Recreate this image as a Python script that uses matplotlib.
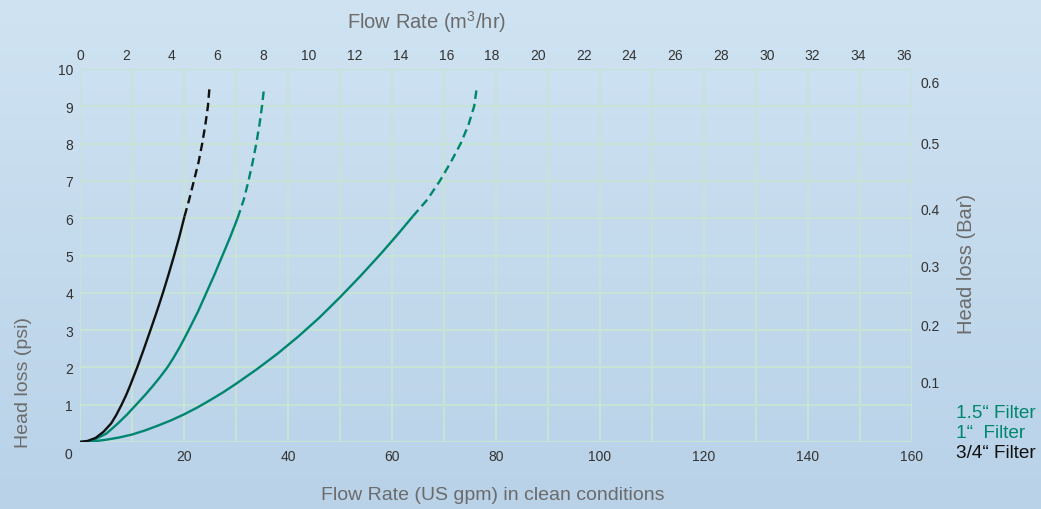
import numpy as np
import matplotlib
matplotlib.use("Agg")
import matplotlib.pyplot as plt

plt.rcParams['font.family'] = ['Liberation Sans', 'DejaVu Sans']

# ---- data (US gpm vs head loss psi) ----
q34_solid = [0, 1.5, 3.0, 4.5, 6.0, 7.0, 8.0, 8.85, 9.6, 10.3, 11.0, 12.3, 13.55, 14.78, 15.95, 17.05, 18.1, 19.1, 20.1]
p34_solid = [0, 0.03, 0.11, 0.27, 0.5, 0.73, 1.0, 1.25, 1.5, 1.75, 2.0, 2.5, 3.0, 3.5, 4.0, 4.5, 5.0, 5.5, 6.05]
q34_dash = [20.1, 21.0, 21.9, 22.8, 23.5, 24.1, 24.6, 24.9]
p34_dash = [6.05, 6.5, 7.0, 7.5, 8.0, 8.5, 9.0, 9.5]

q1_solid = [0, 1.5, 3.0, 5.0, 6.1, 7.3, 9.0, 10.8, 12.45, 14.0, 15.45, 16.8, 17.95, 19.0, 19.97, 20.9, 22.7, 24.3, 25.9, 27.4, 28.9, 30.3]
p1_solid = [0, 0.02, 0.08, 0.22, 0.35, 0.5, 0.73, 1.0, 1.25, 1.5, 1.75, 2.0, 2.25, 2.5, 2.75, 3.0, 3.5, 4.0, 4.5, 5.0, 5.5, 6.0]
q1_dash = [30.3, 31.5, 32.4, 33.2, 33.9, 34.5, 35.0, 35.4]
p1_dash = [6.0, 6.5, 7.0, 7.5, 8.0, 8.5, 9.0, 9.5]

q15_solid = [0, 2.5, 5, 7.5, 10, 12.5, 15, 17.5, 20, 22.5, 25, 27.5, 30, 34, 38, 42, 46, 50, 54, 58, 61, 64]
p15_solid = [0, 0.015, 0.06, 0.12, 0.2, 0.31, 0.44, 0.58, 0.74, 0.92, 1.12, 1.33, 1.56, 1.95, 2.37, 2.83, 3.33, 3.88, 4.46, 5.07, 5.55, 6.05]
q15_dash = [64.0, 66.8, 69.2, 71.3, 73.2, 74.7, 75.8, 76.3]
p15_dash = [6.05, 6.5, 7.0, 7.5, 8.0, 8.5, 9.0, 9.5]

x_major = [0, 20, 40, 60, 80, 100, 120, 140, 160]
x_labels = ['', '20', '40', '60', '80', '100', '120', '140', '160']
y_major = list(range(0, 11))
y_labels = [''] + [str(v) for v in range(1, 11)]
m3_ticks = list(range(0, 37, 2))
bar_pos_psi = [1.61, 3.16, 4.73, 6.26, 8.04, 9.66]
bar_labels = ['0.1', '0.2', '0.3', '0.4', '0.5', '0.6']

legend_labels = ['1.5\u201c Filter', '1\u201c  Filter', '3/4\u201c Filter']

GREEN = '#00866f'
BLACK = '#111111'
GRID = '#c6e3d6'
TICK = '#333333'
LAB = '#6b6b6b'

W, H = 1041, 510
fig = plt.figure(figsize=(W / 100, H / 100), dpi=100)

# background gradient
bg = fig.add_axes([0, 0, 1, 1], zorder=-10)
top = np.array([207, 227, 242]) / 255
bot = np.array([185, 210, 232]) / 255
t = np.linspace(0, 1, 256)[:, None]
grad = top[None, :] * (1 - t) + bot[None, :] * t
bg.imshow(grad[:, None, :].repeat(4, axis=1), aspect='auto', extent=[0, 1, 0, 1])
bg.axis('off')

ax = fig.add_axes([80 / W, 1 - 443 / H, 832 / W, 373 / H])
ax.patch.set_alpha(0)
ax.set_xlim(0, 160)
ax.set_ylim(0, 10)

ax.set_xticks(x_major)
ax.set_xticklabels(x_labels)
ax.set_xticks(np.arange(10, 160, 20), minor=True)
ax.set_yticks(y_major)
ax.set_yticklabels(y_labels)
ax.grid(True, which='both', color=GRID, lw=1.5, zorder=0)
ax.tick_params(which='both', length=0, labelsize=10, colors=TICK)
ax.tick_params(axis='x', pad=5)
ax.tick_params(axis='y', pad=5)
for s in ax.spines.values():
    s.set_visible(False)
ax.set_axisbelow(True)

lw = 1.7
ax.plot(q15_solid, p15_solid, color=GREEN, lw=lw, solid_capstyle='butt', solid_joinstyle='round', zorder=3)
l, = ax.plot(q15_dash, p15_dash, color=GREEN, lw=lw, zorder=3)
l.set_dashes([3.6, 2.1])
ax.plot(q1_solid, p1_solid, color=GREEN, lw=lw, solid_capstyle='butt', solid_joinstyle='round', zorder=3)
l, = ax.plot(q1_dash, p1_dash, color=GREEN, lw=lw, zorder=3)
l.set_dashes([3.6, 2.1])
ax.plot(q34_solid, p34_solid, color=BLACK, lw=lw, solid_capstyle='butt', solid_joinstyle='round', zorder=4)
l, = ax.plot(q34_dash, p34_dash, color=BLACK, lw=lw, zorder=4)
l.set_dashes([3.6, 2.1])

ax.annotate('0', xy=(0, 0), xytext=(-12, -12), textcoords='offset pixels',
            ha='center', va='center', fontsize=10, color=TICK)

# top axis: m3/hr
sec = ax.secondary_xaxis('top', functions=(lambda g: g * 0.22712, lambda m: m / 0.22712))
sec.set_xticks(m3_ticks)
sec.tick_params(length=0, labelsize=10, colors=TICK, pad=5)
for s in sec.spines.values():
    s.set_visible(False)

# right axis: bar
ax2 = ax.twinx()
ax2.set_ylim(0, 10)
ax2.set_yticks(bar_pos_psi)
ax2.set_yticklabels(bar_labels)
ax2.tick_params(length=0, labelsize=10, colors=TICK, pad=6)
for s in ax2.spines.values():
    s.set_visible(False)

# axis titles
fig.text(493 / W, 1 - 496 / H, 'Flow Rate (US gpm) in clean conditions',
         ha='center', va='center', fontsize=14, color=LAB)
fig.text(427 / W, 1 - 22 / H, 'Flow Rate (m$^{\\mathregular{3}}$/hr)',
         ha='center', va='center', fontsize=14.5, color=LAB)
fig.text(24 / W, 1 - 383 / H, 'Head loss (psi)', rotation=90,
         ha='center', va='center', fontsize=14, color=LAB)
fig.text(967 / W, 1 - 264 / H, 'Head loss (Bar)', rotation=90,
         ha='center', va='center', fontsize=14.5, color=LAB)

# legend texts
leg_colors = [GREEN, GREEN, BLACK]
leg_y = [414, 434, 454]
for txt, c, yy in zip(legend_labels, leg_colors, leg_y):
    fig.text(956 / W, 1 - yy / H, txt, ha='left', va='center', fontsize=13.7, color=c)

fig.savefig('out.png', dpi=100)
